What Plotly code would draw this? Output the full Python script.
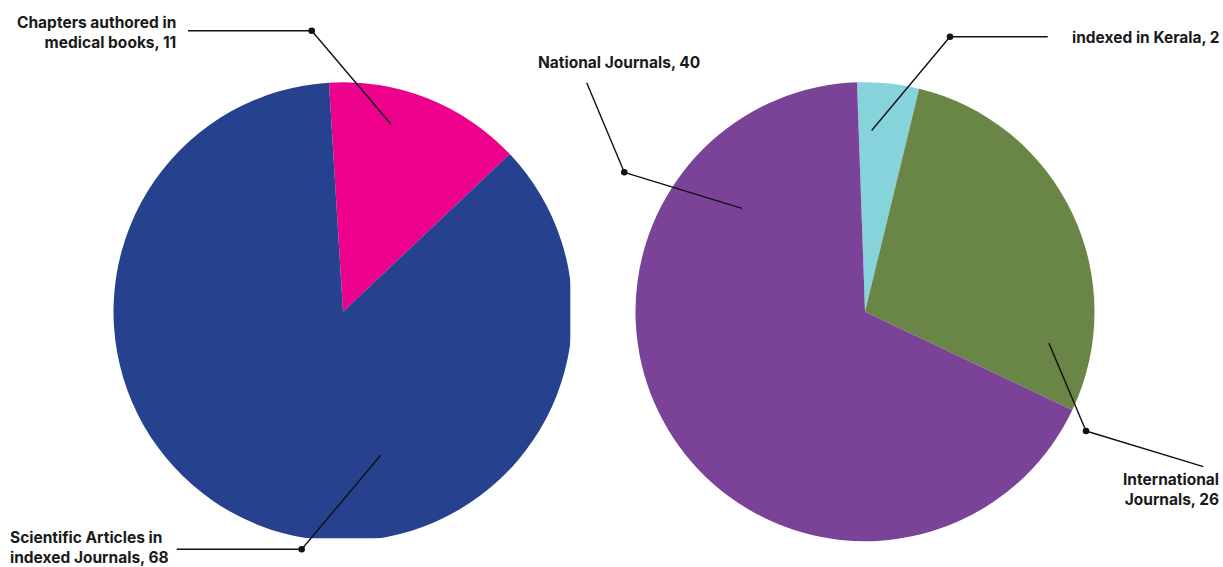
import math
import plotly.graph_objects as go

W, H = 1223, 567

# ---- data ----
left_labels = ["Chapters authored in medical books", "Scientific Articles in indexed Journals"]
left_values = [11, 68]
left_colors = ["#EC008C", "#26418E"]

right_labels = ["indexed in Kerala", "International Journals", "National Journals"]
right_values = [2, 13, 31]          # slice sizes as drawn
right_label_counts = [2, 26, 40]    # numbers printed in the labels
right_colors = ["#86D3DC", "#6A8646", "#7B4397"]

left_texts = ["Chapters authored in<br>medical books, 11", "Scientific Articles in<br>indexed Journals, 68"]
right_texts = ["indexed in Kerala, 2", "International<br>Journals, 26", "National Journals, 40"]

# ---- geometry ----
R = 229.5
LC = (343.0, 311.7)
RC = (865.0, 311.7)


def dom(c):
    cx, cy = c
    return dict(x=[(cx - R) / W, (cx + R) / W], y=[(H - (cy + R)) / H, (H - (cy - R)) / H])


def px(x, y):
    return x / W, 1 - y / H


def polar(c, ang, frac):
    a = math.radians(ang)
    return c[0] + frac * R * math.sin(a), c[1] - frac * R * math.cos(a)


fig = go.Figure()
fig.add_trace(go.Pie(labels=left_labels, values=left_values, marker=dict(colors=left_colors, line=dict(width=0)),
                     sort=False, direction="clockwise", rotation=-3.5, textinfo="none", hoverinfo="skip",
                     domain=dom(LC), showlegend=False))
fig.add_trace(go.Pie(labels=right_labels, values=right_values, marker=dict(colors=right_colors, line=dict(width=0)),
                     sort=False, direction="clockwise", rotation=-2, textinfo="none", hoverinfo="skip",
                     domain=dom(RC), showlegend=False))

shapes = []
# white clipping of left pie (right and bottom edge)
x0, y0 = px(570.3, 0)
x1, y1 = px(605, H)
shapes.append(dict(type="rect", xref="paper", yref="paper", x0=x0, x1=x1, y0=y1, y1=y0,
                   fillcolor="white", line=dict(width=0), layer="above"))
x0, y0 = px(90, 538.3)
x1, y1 = px(605, H)
shapes.append(dict(type="rect", xref="paper", yref="paper", x0=x0, x1=x1, y0=y1, y1=y0,
                   fillcolor="white", line=dict(width=0), layer="above"))

# leader definitions: (center, angle, radius fraction, knee pixel, outer end pixel)
leaders = [
    (LC, 14.3, 0.844, (311.7, 30.7), (188.0, 30.7)),
    (LC, 165.1, 0.645, (301.7, 549.3), (176.7, 549.3)),
    (RC, 2.1, 0.79, (950.0, 36.7), (1047.7, 36.7)),
    (RC, 99.7, 0.813, (1086.0, 431.0), (1203.3, 466.7)),
    (RC, 310.0, 0.70, (624.3, 172.3), (586.7, 82.7)),
]
for c, ang, fr, knee, outer in leaders:
    ix, iy = polar(c, ang, fr)
    for (ax, ay), (bx, by) in [((ix, iy), knee), (knee, outer)]:
        X0, Y0 = px(ax, ay)
        X1, Y1 = px(bx, by)
        shapes.append(dict(type="line", xref="paper", yref="paper", x0=X0, y0=Y0, x1=X1, y1=Y1,
                           line=dict(color="#111111", width=1.4), layer="above"))
    kx, ky = knee
    rr = 3.3
    X0, Y0 = px(kx - rr, ky + rr)
    X1, Y1 = px(kx + rr, ky - rr)
    shapes.append(dict(type="circle", xref="paper", yref="paper", x0=X0, y0=Y0, x1=X1, y1=Y1,
                       fillcolor="#111111", line=dict(width=0), layer="above"))

font = dict(family="Inter, Roboto, sans-serif", size=15.5, color="#1a1a1a", weight="bold")
labels_pos = [
    (left_texts[0], 176.0, 32.5, "right"),
    (left_texts[1], 10.0, 547.5, "left"),
    (right_texts[0], 1072.3, 37.3, "left"),
    (right_texts[1], 1219.0, 489.0, "right"),
    (right_texts[2], 538.0, 62.7, "left"),
]
annotations = []
for t, x, y, anc in labels_pos:
    X, Y = px(x, y)
    annotations.append(dict(text=t, x=X, y=Y, xref="paper", yref="paper", xanchor=anc, yanchor="middle",
                            align=anc, showarrow=False, font=font, borderpad=0, borderwidth=0))

fig.update_layout(width=W, height=H, margin=dict(l=0, r=0, t=0, b=0), paper_bgcolor="white",
                  plot_bgcolor="white", shapes=shapes, annotations=annotations, showlegend=False)
fig.write_html("out.html", config={"displayModeBar": False},
               post_script="document.body.style.margin='0';document.body.style.padding='0';"
                           "document.body.style.overflow='hidden';")
